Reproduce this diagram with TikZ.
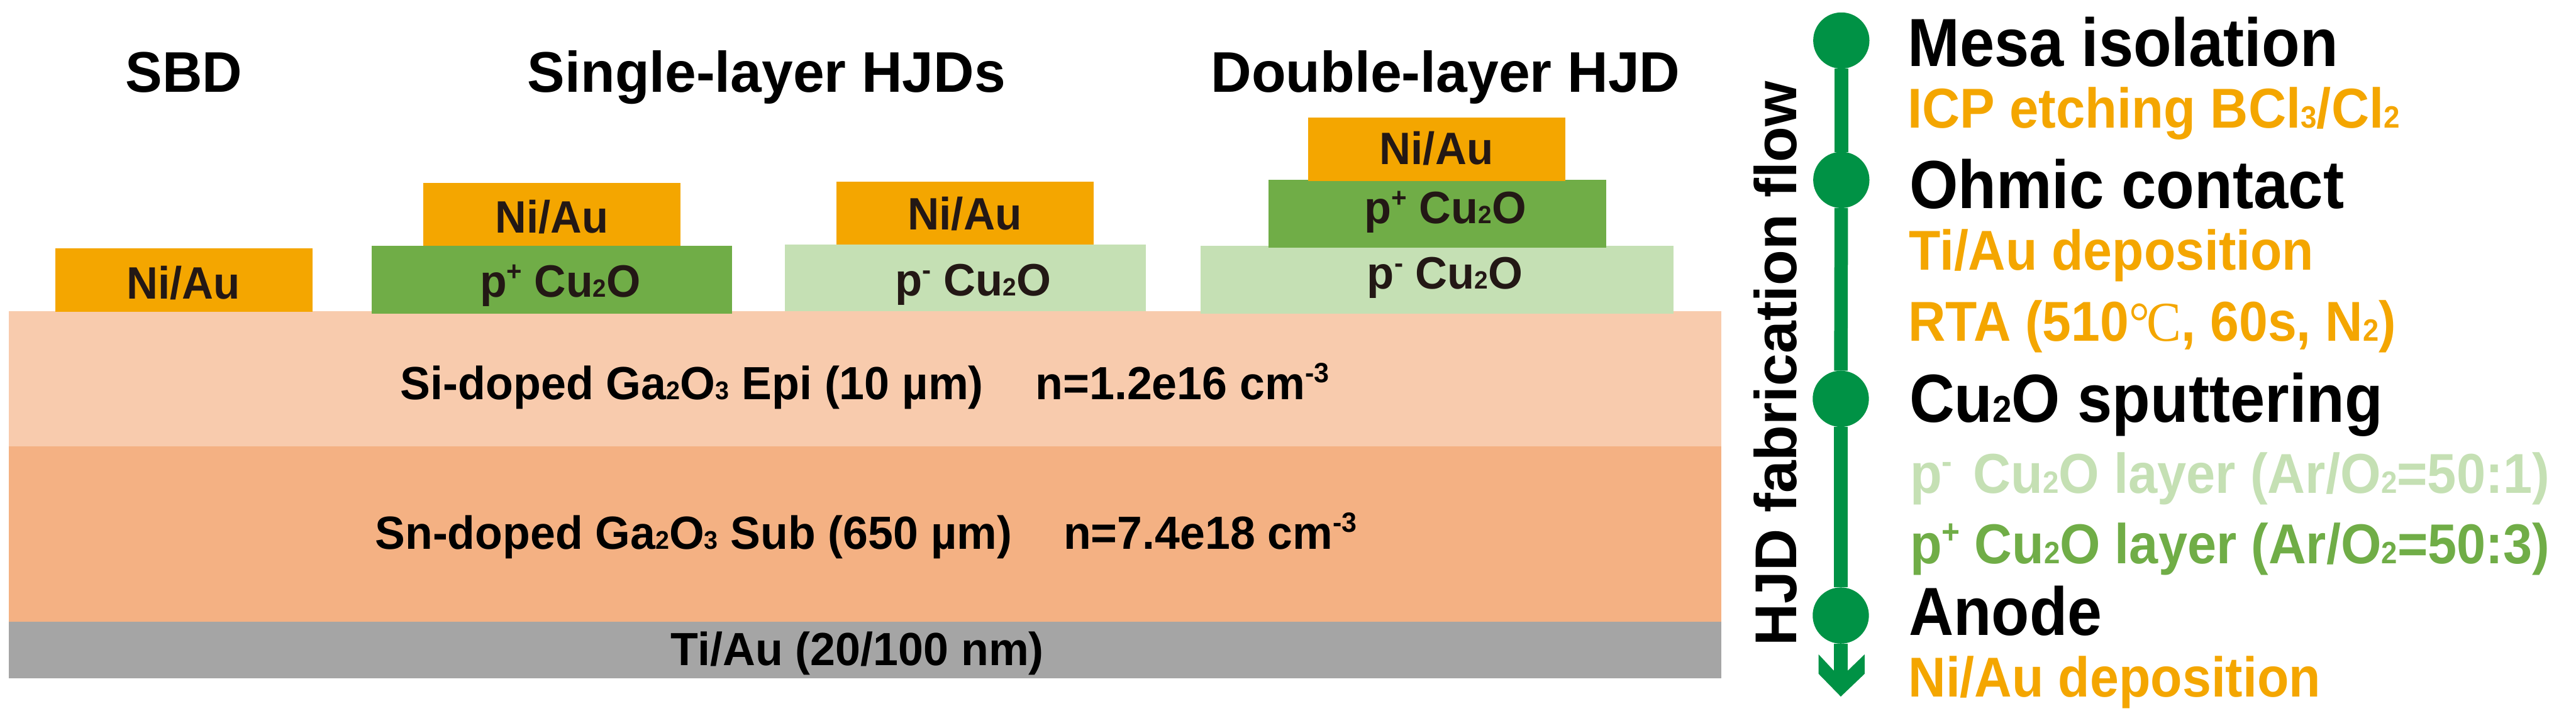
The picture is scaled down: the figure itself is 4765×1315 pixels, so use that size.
\documentclass[tikz,border=0pt]{standalone}
\usepackage{graphicx}
\usepackage{fontspec}
\setmainfont{Liberation Sans}
\newfontfamily\serifc{Liberation Serif}
\definecolor{nia}{HTML}{F4A600}
\definecolor{pplus}{HTML}{70AD47}
\definecolor{pminus}{HTML}{C5E0B4}
\definecolor{epi}{HTML}{F8CBAD}
\definecolor{sub}{HTML}{F4B183}
\definecolor{back}{HTML}{A5A5A5}
\definecolor{flowg}{HTML}{009245}
\definecolor{ink}{HTML}{231815}
\newcommand{\dn}[1]{\scalebox{.55}{#1}}
\newcommand{\up}[1]{\raisebox{.36em}{\scalebox{.6}{#1}}}
\newcommand{\lab}[7]{\node[txt,text=#6,font=\fontsize{#4}{#4}\selectfont\bfseries] (#1) at (#2,#3) {\resizebox{#5pt}{\height}{#7}};}
\newcommand{\layer}[6]{\path[fill=#6] (#2,#3) rectangle (#4,#5) coordinate (#1);}
\tikzset{
  x=1pt,y=-1pt,
  txt/.style={anchor=base west,inner sep=0pt,outer sep=0pt},
  flowline/.style={draw=flowg,line width=25pt},
  dot/.style={circle,fill=flowg,inner sep=0pt,minimum size=104pt,outer sep=0pt}
}
\begin{document}
\begin{tikzpicture}
\useasboundingbox (0,0) rectangle (4765,1315);
% substrate stack
\layer{epiL}{16}{576}{3184}{827}{epi}
\layer{subL}{16}{826}{3184}{1151}{sub}
\layer{backL}{16}{1150}{3184}{1255}{back}
% contacts
\layer{a}{102}{460}{578}{577}{nia}
\layer{b}{687}{455}{1354}{580}{pplus}
\layer{c}{783}{338}{1259}{455}{nia}
\layer{d}{1452}{452}{2119}{576}{pminus}
\layer{e}{1547}{336}{2023}{452}{nia}
\layer{f}{2221}{455}{3096}{581}{pminus}
\layer{g}{2346}{333}{2971}{458}{pplus}
\layer{h}{2420}{218}{2896}{335}{nia}
% titles
\lab{t1}{232}{171}{106}{216}{black}{SBD}
\lab{t2}{976}{171}{106}{884}{black}{Single-layer HJDs}
\lab{t3}{2240}{171}{106}{868}{black}{Double-layer HJD}
% device labels
\lab{l1}{234}{553}{84}{210}{ink}{Ni/Au}
\lab{l2}{916}{431}{84}{209}{ink}{Ni/Au}
\lab{l3}{1679}{425}{84}{211}{ink}{Ni/Au}
\lab{l4}{2552}{304}{84}{210}{ink}{Ni/Au}
\lab{l5}{888}{550}{84}{297}{ink}{p\up{+} Cu\dn{2}O}
\lab{l6}{1656}{547}{84}{288}{ink}{p\up{-} Cu\dn{2}O}
\lab{l7}{2524}{414}{84}{299}{ink}{p\up{+} Cu\dn{2}O}
\lab{l8}{2529}{535}{84}{288}{ink}{p\up{-} Cu\dn{2}O}
\lab{l9}{741}{739}{86}{1718}{black}{Si-doped Ga\dn{2}O\dn{3} Epi (10 µm)\hspace{1.15em}n=1.2e16 cm\up{-3}}
\lab{l10}{694}{1016}{86}{1816}{black}{Sn-doped Ga\dn{2}O\dn{3} Sub (650 µm)\hspace{1.15em}n=7.4e18 cm\up{-3}}
\lab{l11}{1241}{1231}{86}{690}{black}{Ti/Au (20/100 nm)}
% flow
\node[dot] (c1) at (3406,75) {};
\node[dot] (c2) at (3406,333) {};
\node[dot] (c3) at (3405,738) {};
\node[dot] (c4) at (3405,1139) {};
\coordinate (tip) at (3405,1289);
\coordinate (shaftend) at (3405,1262);
\draw[flowline] (c1) -- (c2);
\draw[flowline] (c2) -- (c3);
\draw[flowline] (c3) -- (c4);
\draw[flowline] (c4) -- (shaftend);
\path[fill=flowg] (tip) -- (3449,1247) -- (3449,1211) -- (3418,1241) -- (3392,1241) -- (3364,1211) -- (3364,1247) -- cycle;
\node[txt,rotate=90,font=\fontsize{109}{109}\selectfont\bfseries,text=black] (flowtitle) at (3323,1195) {\resizebox{1045pt}{\height}{HJD fabrication flow}};
% steps
\lab{s1}{3529}{123}{126}{796}{black}{Mesa isolation}
\lab{s2}{3529}{236.5}{104}{910}{nia}{ICP etching BCl\dn{3}/Cl\dn{2}}
\lab{s3}{3532}{386}{126}{804}{black}{Ohmic contact}
\lab{s4}{3531}{500}{104}{749}{nia}{Ti/Au deposition}
\lab{s5}{3530}{631}{104}{902}{nia}{RTA (510{\serifc\mdseries °\kern-.05em C}, 60s, N\dn{2})}
\lab{s6}{3532}{781}{126}{876}{black}{Cu\dn{2}O sputtering}
\lab{s7}{3533}{913}{104}{1183}{pminus}{p\up{-}\hspace{.12em} Cu\dn{2}O layer (Ar/O\dn{2}=50:1)}
\lab{s8}{3533}{1043}{104}{1183}{pplus}{p\up{+} Cu\dn{2}O layer (Ar/O\dn{2}=50:3)}
\lab{s9}{3531}{1176}{126}{357}{black}{Anode}
\lab{s10}{3530}{1289}{104}{763}{nia}{Ni/Au deposition}
\end{tikzpicture}
\end{document}
